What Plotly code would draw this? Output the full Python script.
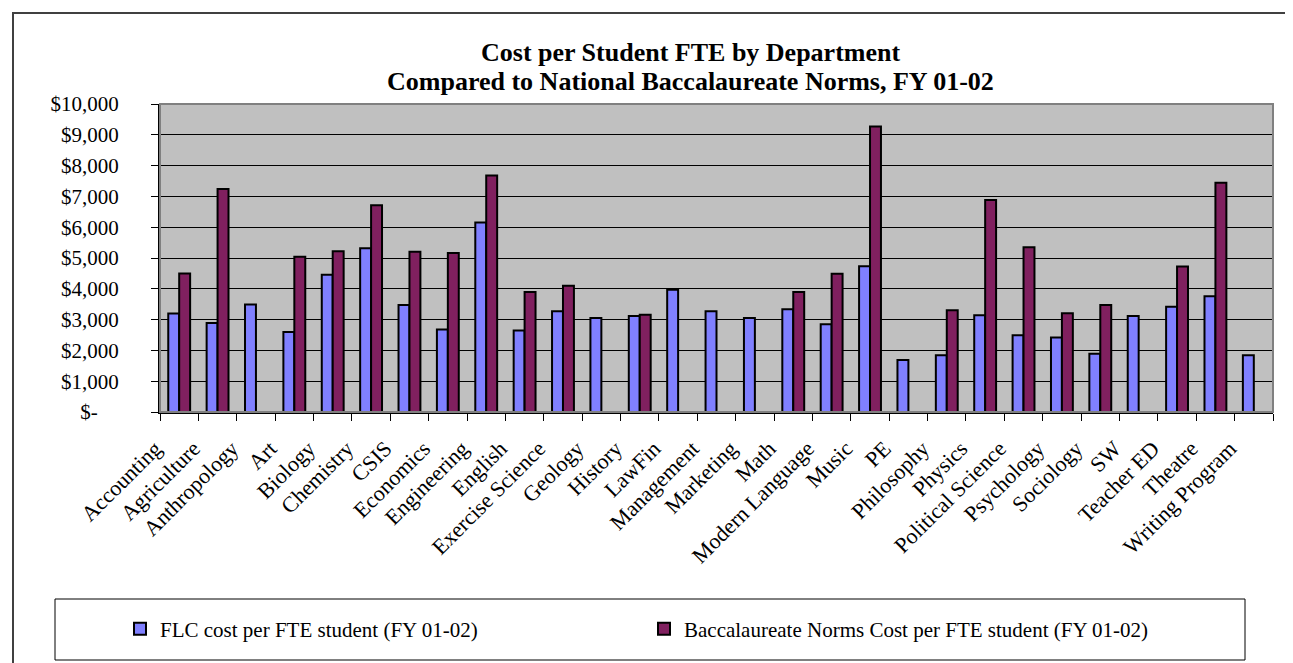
import plotly.graph_objects as go

departments = [
    "Accounting", "Agriculture", "Anthropology", "Art", "Biology", "Chemistry",
    "CSIS", "Economics", "Engineering", "English", "Exercise Science", "Geology",
    "History", "LawFin", "Management", "Marketing", "Math", "Modern Language",
    "Music", "PE", "Philosophy", "Physics", "Political Science", "Psychology",
    "Sociology", "SW", "Teacher ED", "Theatre", "Writing Program",
]

flc_cost = [
    3200, 2890, 3490, 2600, 4460, 5320,
    3470, 2680, 6150, 2650, 3270, 3050,
    3120, 3970, 3270, 3050, 3340, 2850,
    4730, 1690, 1840, 3140, 2490, 2420,
    1890, 3120, 3420, 3760, 1840,
]

norm_cost = [
    4500, 7240, None, 5040, 5220, 6710,
    5200, 5160, 7680, 3900, 4100, None,
    3160, None, None, None, 3900, 4490,
    9270, None, 3300, 6880, 5350, 3210,
    3470, None, 4720, 7440, None,
]

series_names = [
    "FLC cost per FTE student (FY 01-02)",
    "Baccalaureate Norms Cost per FTE student (FY 01-02)",
]

y_tick_values = [0, 1000, 2000, 3000, 4000, 5000, 6000, 7000, 8000, 9000, 10000]
y_tick_labels = ["$-" + "\u00a0" * 4, "$1,000", "$2,000", "$3,000", "$4,000", "$5,000",
                 "$6,000", "$7,000", "$8,000", "$9,000", "$10,000"]

title_lines = [
    "Cost per Student FTE by Department",
    "Compared to National Baccalaureate Norms, FY 01-02",
]

W, H = 1293, 663
PL, PR, PT, PB = 152, 1265, 96, 404
pw, ph = PR - PL, PB - PT


def px(x):
    return (x - PL) / pw


def py(y):
    return (PB - y) / ph


FONT = "Liberation Serif, Times New Roman, serif"

fig = go.Figure()
fig.add_trace(go.Bar(
    x=departments, y=flc_cost, name=series_names[0],
    marker=dict(color="#8080FF", line=dict(color="black", width=2)),
))
fig.add_trace(go.Bar(
    x=departments, y=norm_cost, name=series_names[1],
    marker=dict(color="#80205F", line=dict(color="black", width=2)),
))

fig.update_layout(
    width=W, height=H, autosize=False,
    margin=dict(l=PL, r=W - PR, t=PT, b=H - PB, pad=0),
    paper_bgcolor="white",
    plot_bgcolor="#C0C0C0",
    barmode="group", bargap=0.43, bargroupgap=0.0,
    font=dict(family=FONT, color="black", size=21),
    showlegend=True,
    legend=dict(
        orientation="h", x=px(112), xanchor="left", y=py(621), yanchor="middle",
        font=dict(family=FONT, size=21, color="black"),
        bgcolor="rgba(0,0,0,0)", borderwidth=0,
        entrywidth=479, entrywidthmode="pixels",
        itemclick=False, itemdoubleclick=False,
    ),
    xaxis=dict(
        type="category", tickangle=-45, tickson="boundaries",
        ticks="outside", ticklen=7, tickcolor="black", tickwidth=1,
        showline=True, linecolor="black", linewidth=2,
        showgrid=False, tickfont=dict(family=FONT, size=22, color="black"),
        ticklabelstandoff=13, ticklabelshift=-24,
    ),
    yaxis=dict(
        range=[0, 10000], tickvals=y_tick_values, ticktext=y_tick_labels,
        ticks="outside", ticklen=7, tickcolor="black", tickwidth=1,
        showline=True, linecolor="black", linewidth=2,
        showgrid=True, gridcolor="black", gridwidth=1,
        zeroline=False,
        tickfont=dict(family=FONT, size=21, color="black"),
        ticklabelstandoff=28,
    ),
)

# plot area border (gray)
fig.add_shape(type="rect", xref="paper", yref="paper", x0=0, y0=0, x1=1, y1=1,
              line=dict(color="#808080", width=2), fillcolor="rgba(0,0,0,0)", layer="above")
# outer chart frame (extends past the right and bottom edges)
fig.add_shape(type="rect", xref="paper", yref="paper",
              x0=px(5), y0=py(720), x1=px(1450), y1=py(5),
              line=dict(color="#404040", width=2), fillcolor="rgba(0,0,0,0)")
# legend box
fig.add_shape(type="rect", xref="paper", yref="paper",
              x0=px(47), y0=py(652), x1=px(1237), y1=py(591),
              line=dict(color="black", width=1), fillcolor="rgba(0,0,0,0)")

# title lines
for line, ypix in zip(title_lines, [44, 73]):
    fig.add_annotation(
        text="<b>" + line + "</b>", xref="paper", yref="paper",
        x=px(682), y=py(ypix), xanchor="center", yanchor="middle",
        showarrow=False, font=dict(family=FONT, size=26, color="black"),
    )

fig.write_html("out.html")
